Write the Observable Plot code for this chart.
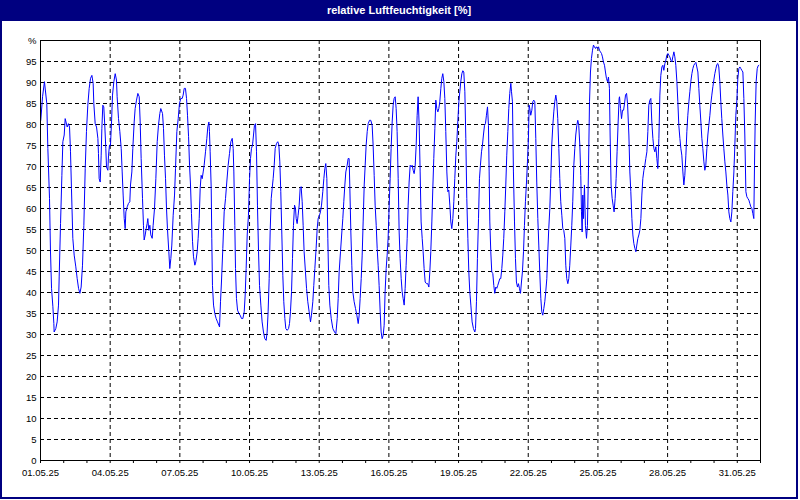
<!DOCTYPE html>
<html><head><meta charset="utf-8">
<script src="https://cdn.jsdelivr.net/npm/d3@7"></script>
<script src="https://cdn.jsdelivr.net/npm/@observablehq/plot@0.6"></script>
<style>
html,body{margin:0;padding:0;background:#fff;}
#wrap{position:relative;width:800px;height:500px;overflow:hidden;background:#fff;font-family:"Liberation Sans",Arial,sans-serif;}
#title{position:absolute;left:0;top:0;width:798px;height:21px;background:#000080;color:#fff;font-weight:bold;font-size:11px;line-height:20px;text-align:center;}
#frame{position:absolute;left:0;top:0;width:798px;height:499px;box-sizing:border-box;border:2px solid #000080;pointer-events:none;}
#chart{position:absolute;left:0;top:21px;}
</style></head><body>
<div id="wrap"><div id="title">relative Luftfeuchtigkeit [%]</div><div id="chart"></div><div id="frame"></div></div>
<script>
// hours since 01.05.25 00:00
const hours = [
0.3,2.1,4.1,6.5,7.6,9.3,10.3,11.4,12.8,13.8,14.1,15.8,17.2,18.6,19.3,20.7,22.1,23.1,24.5,25.5,27.6,28.9,30.0,31.0,32.0,33.4,34.8,36.5,37.9,39.3,40.7,42.0,43.4,44.8,46.2,47.5,48.9,50.3,51.7,53.1,54.4,55.1,56.5,57.9,59.3,59.9,60.6,61.7,62.7,63.4,64.4,65.4,66.5,67.5,68.2,69.6,70.3,71.3,72.3,73.4,74.4,75.8,77.2,78.5,79.2,80.6,82.0,83.4,84.4,85.4,86.5,87.5,88.2,89.6,90.9,92.3,93.0,94.4,95.4,96.8,97.8,99.2,100.6,102.0,103.0,104.0,105.4,106.4,107.1,108.2,109.2,110.2,110.9,111.9,113.0,114.0,115.4,116.4,117.8,119.2,120.6,121.9,123.3,124.3,126.1,127.1,128.1,129.2,130.2,131.2,132.6,133.6,134.7,135.7,137.1,138.5,139.5,140.9,142.3,143.6,145.0,146.4,147.4,148.5,
149.8,150.9,151.9,153.0,154.0,155.0,156.0,157.1,158.1,159.5,160.5,161.9,162.9,164.0,165.0,166.0,167.1,168.1,169.1,170.5,171.9,172.9,174.0,174.6,175.3,176.4,177.0,177.7,178.8,180.1,181.5,182.9,184.3,185.0,186.0,187.0,188.4,189.8,191.2,192.5,193.9,195.3,196.7,198.1,199.1,199.8,200.8,201.5,202.5,203.6,205.0,206.3,207.7,209.1,210.5,211.5,212.5,213.6,214.9,216.0,217.0,218.0,219.1,220.1,221.1,222.2,223.2,224.2,225.3,226.3,227.7,229.0,230.4,231.8,233.2,234.2,235.2,236.3,237.3,238.4,239.4,240.4,241.5,242.5,243.9,245.2,246.3,247.3,248.3,249.4,250.4,251.4,252.5,253.5,254.9,256.3,257.3,258.3,259.4,260.4,261.4,262.5,263.5,264.2,265.2,266.2,267.3,268.3,269.3,270.4,271.4,272.4,273.8,274.9,276.2,277.6,279.0,280.0,281.4,282.4,283.5,284.8,285.9,286.9,288.3,289.3,290.4,291.7,292.8,293.8,294.8,295.9,296.9,297.9,
299.0,300.4,302.1,303.8,305.2,306.6,307.6,308.6,310.0,311.4,312.4,313.4,314.5,315.5,316.9,317.9,318.9,319.6,320.7,321.7,322.7,324.1,325.5,326.9,328.3,329.3,330.3,331.4,332.4,333.4,334.5,335.5,336.5,337.6,338.6,340.0,341.3,342.7,343.7,344.8,345.8,346.9,347.9,348.9,349.9,351.0,352.0,353.0,354.1,355.1,356.1,357.2,358.2,359.2,360.3,361.3,362.3,363.4,364.4,365.4,366.5,367.5,368.5,369.6,370.6,371.6,372.7,373.7,374.7,375.8,376.8,377.8,378.9,379.9,380.9,382.0,383.0,384.0,385.1,386.1,387.1,388.2,389.2,390.2,391.3,392.3,393.3,394.4,395.4,396.4,397.5,398.9,400.2,401.3,402.3,403.3,404.4,405.4,406.4,407.5,408.5,409.5,410.6,411.6,412.6,413.7,414.7,415.7,416.8,417.8,418.8,419.9,420.9,421.9,423.0,424.0,425.0,426.1,427.1,428.1,429.2,430.2,431.2,432.3,433.3,434.3,435.4,436.4,437.4,438.5,439.5,440.5,441.6,442.6,443.6,444.7,446.0,447.4,448.8,
449.5,450.5,451.5,452.6,453.6,454.6,455.7,456.7,457.7,458.8,459.8,460.8,461.9,462.9,463.6,464.3,465.3,466.3,467.4,468.4,469.4,470.5,471.5,472.5,473.6,474.6,475.6,476.7,477.7,478.7,479.8,480.8,481.8,482.9,483.9,484.9,486.0,486.7,487.7,488.7,489.8,490.8,491.8,492.9,493.9,494.9,496.0,497.0,498.0,499.1,500.1,501.1,502.2,503.2,504.2,504.9,505.6,506.6,507.7,508.7,509.7,510.8,511.8,512.8,513.9,514.9,515.9,517.0,518.0,519.0,520.1,521.1,522.1,523.2,524.2,525.2,526.3,527.3,528.3,529.4,530.4,531.4,532.5,533.5,534.5,535.6,536.6,537.6,538.7,539.7,540.7,541.8,542.8,543.8,544.9,545.9,546.9,548.0,549.0,550.0,551.1,552.1,553.1,554.2,555.2,556.2,557.3,558.3,559.0,559.7,560.4,561.1,562.1,563.1,564.2,565.2,566.2,567.3,568.3,569.3,570.4,571.4,572.4,573.5,574.5,575.5,576.6,577.6,578.6,579.7,580.7,581.7,582.8,583.8,584.8,585.9,586.9,587.9,588.6,589.6,590.7,591.7,592.7,593.8,594.8,595.8,596.9,597.9,
598.3,599.4,600.4,601.4,602.5,603.5,604.5,605.6,606.6,608.0,609.0,610.0,611.1,612.1,613.1,614.2,615.2,616.2,617.3,618.3,619.3,620.4,621.4,622.4,623.5,624.5,625.5,626.6,627.6,628.6,629.7,630.7,631.7,632.8,633.8,634.8,635.9,636.9,637.9,639.0,640.0,641.0,642.1,643.1,644.1,645.2,646.2,647.2,648.3,649.3,650.3,651.4,652.4,653.4,654.5,655.5,656.5,657.6,658.6,659.6,660.7,661.7,662.7,663.8,664.8,665.8,666.9,667.9,668.9,670.0,671.0,672.0,673.1,674.1,675.1,676.2,677.2,678.2,679.3,680.3,681.3,682.4,683.4,684.4,685.5,686.5,687.5,688.6,689.6,690.6,691.7,692.7,693.7,694.8,695.8,696.8,697.9,698.9,699.9,700.9,702.0,703.0,704.0,705.1,706.1,707.2,708.2,709.2,710.3,711.3,712.3,713.4,714.4,715.4,716.5,717.5,718.5,719.6,720.6,721.6,722.7,723.7,724.7,725.8,726.8,727.8,728.9,729.9,730.9,732.0,733.0,734.0,735.1,736.1,737.1,737.8,738.5,739.5,740.6,741.6,742.3
];
// relative humidity in %
const humidity = [
81.0,86.6,90.2,85.0,74.3,62.4,50.0,41.0,36.6,32.6,30.6,31.4,33.0,37.0,43.7,56.4,67.9,75.9,77.5,81.4,79.4,80.2,79.4,73.5,64.8,52.9,48.9,46.1,43.3,41.0,39.8,41.3,46.5,56.0,69.5,78.3,84.6,88.6,91.0,91.7,89.8,85.0,80.2,79.4,76.7,73.1,67.1,66.3,72.7,79.0,84.6,84.2,79.4,74.3,69.9,69.1,72.7,75.1,75.0,80.6,87.0,90.2,92.1,90.6,86.6,81.4,78.3,74.3,68.7,63.2,57.6,55.2,59.2,60.4,61.2,61.6,65.6,68.7,74.3,80.6,83.8,85.8,87.4,86.6,80.6,71.9,62.4,56.0,52.5,53.7,55.2,56.4,57.6,54.8,56.0,53.7,52.9,56.0,60.0,67.1,75.9,79.8,82.6,83.8,82.6,79.0,72.7,67.1,60.0,55.2,49.7,45.7,48.1,51.3,58.4,63.2,69.5,78.3,81.4,85.0,86.2,86.2,87.0,88.6,
88.6,86.2,82.2,77.1,70.3,65.6,58.8,52.1,48.5,46.5,47.3,49.7,52.9,57.6,64.8,67.9,67.1,68.7,70.3,73.5,76.7,79.4,80.6,78.3,73.5,64.8,52.9,41.7,37.0,35.0,33.8,33.0,32.2,31.8,37.8,42.5,50.5,59.2,62.4,66.3,70.3,73.1,75.9,76.7,74.3,68.7,56.0,45.7,38.6,35.8,35.0,34.6,33.8,33.8,35.4,39.4,45.7,53.7,58.4,67.1,71.9,74.3,75.1,77.5,79.8,80.2,73.5,60.8,49.7,41.7,37.0,33.0,30.6,29.0,28.6,30.6,35.4,43.3,54.4,62.4,64.8,67.1,70.3,74.3,75.5,75.9,75.1,71.1,64.0,53.7,44.1,37.8,33.8,31.4,31.0,31.4,32.6,35.4,40.2,48.1,56.0,60.8,60.0,57.6,56.4,58.4,60.8,64.8,65.2,61.6,56.0,49.7,44.9,41.0,37.8,35.4,33.0,34.6,37.8,41.7,45.7,50.5,55.2,57.6,58.4,59.2,60.8,64.0,67.1,69.5,70.7,67.1,52.9,41.7,
37.0,33.8,31.4,30.6,30.2,33.8,38.6,44.9,49.7,54.4,57.6,61.6,65.6,68.7,70.3,71.9,71.9,65.6,54.4,46.5,40.2,37.8,36.2,34.6,32.6,34.6,38.6,43.3,48.9,56.8,65.6,70.3,75.1,78.3,80.2,81.0,81.0,79.8,75.1,67.9,60.8,56.0,50.5,46.5,41.7,35.4,30.6,29.0,29.8,32.2,40.2,45.7,48.9,52.9,60.8,67.1,74.3,80.6,84.6,86.2,86.6,83.8,78.3,67.1,54.4,48.1,43.3,40.2,38.6,37.0,41.0,46.5,52.9,60.8,66.3,70.3,69.9,70.3,69.1,68.3,69.9,75.1,82.2,86.6,79.8,68.7,56.8,52.9,49.7,45.7,42.5,42.1,42.1,41.3,44.9,49.7,56.8,64.8,71.9,79.0,85.8,83.8,83.0,83.8,85.4,88.6,91.0,92.1,90.2,86.2,78.3,68.7,64.0,64.4,60.8,56.8,55.2,57.6,61.6,67.1,72.7,75.9,80.6,85.4,87.8,90.2,92.1,92.8,92.5,87.8,76.7,62.4,52.9,44.9,40.2,37.0,33.0,31.4,30.6,
31.4,37.8,48.1,57.6,67.1,70.3,73.5,75.1,77.5,79.8,80.2,82.2,84.2,79.8,68.7,56.8,49.7,44.9,44.5,41.7,39.8,41.3,41.0,41.7,42.5,43.3,43.3,45.7,48.9,52.9,59.2,65.6,72.7,78.3,83.8,87.4,89.8,87.8,85.4,68.7,56.8,48.1,42.5,41.3,42.1,41.0,39.8,42.5,44.9,49.7,56.0,61.6,66.3,71.1,76.7,84.6,83.8,82.2,83.4,85.4,85.8,85.4,76.7,66.3,57.6,51.3,44.9,38.6,35.4,34.6,36.2,37.8,40.2,43.3,49.7,55.2,60.0,67.1,75.1,79.8,83.0,85.4,87.0,85.4,81.4,74.3,67.1,61.6,58.4,55.2,54.8,52.9,46.5,43.3,42.1,43.3,46.5,51.3,56.0,61.6,70.3,74.3,77.5,79.8,81.0,79.8,75.1,67.9,59.2,54.4,63.2,57.6,65.6,56.0,52.9,56.0,68.7,85.4,92.5,95.7,97.7,98.9,98.5,98.1,98.5,98.1,98.5,97.7,97.3,96.9,96.1,94.9,94.1,92.5,91.0,90.2,91.3,88.6,77.5,65.6,62.4,60.8,59.2,62.4,67.1,73.5,80.6,86.2,
86.6,83.8,81.4,83.4,83.4,85.0,87.0,87.4,85.0,77.5,68.7,64.0,57.6,53.7,51.7,50.5,49.7,51.3,52.9,53.7,54.8,57.6,63.2,67.1,69.1,70.3,71.9,73.5,78.3,84.6,85.8,86.2,80.6,76.7,74.3,73.5,74.7,71.9,69.5,76.7,87.0,91.7,93.7,94.1,92.9,94.5,95.3,96.5,96.9,96.5,96.1,95.3,94.9,96.1,97.3,96.1,94.1,90.2,85.4,79.8,76.7,74.3,72.7,68.7,65.6,67.9,72.7,78.3,82.2,85.4,87.8,90.2,92.1,93.3,94.1,94.5,94.8,93.7,92.5,88.6,84.6,80.6,76.7,74.3,71.1,69.1,70.3,74.3,77.5,79.8,82.2,85.0,87.0,89.0,90.6,92.1,93.3,94.3,94.5,93.7,90.2,85.4,81.4,77.5,74.3,71.1,68.7,65.6,63.2,59.2,57.6,56.8,59.2,64.0,68.7,75.1,82.2,85.8,91.0,93.3,93.7,93.3,92.9,92.5,86.2,77.5,64.0,62.8,62.4,62.0,61.2,60.4,60.0,58.8,57.6,70.3,80.6,90.2,93.3,94.0,94.1
];
const labelDays = [1,4,7,10,13,16,19,22,25,28,31];
const yTicks = [0,5,10,15,20,25,30,35,40,45,50,55,60,65,70,75,80,85,90,95,100];

const start = Date.UTC(2025,4,1);
const data = hours.map((h,i)=>({date:new Date(start+h*3600e3), rh:humidity[i]}));
const xTicks = labelDays.map(d=>new Date(Date.UTC(2025,4,d)));
const dayTicks = d3.utcDays(new Date(start), new Date(Date.UTC(2025,5,2)));
const fmt = d3.utcFormat("%d.%m.%y");

const chart = Plot.plot({
  width:800, height:479, marginTop:19, marginRight:40, marginBottom:40, marginLeft:40,
  style:{fontFamily:'"Liberation Sans", Arial, sans-serif', fontSize:"9.5px", color:"#000", background:"transparent", overflow:"visible"},
  x:{type:"utc", domain:[new Date(start), new Date(Date.UTC(2025,5,1))]},
  y:{domain:[0,100]},
  marks:[
    Plot.ruleY(yTicks.filter(d=>d>0&&d<100), {stroke:"#000", strokeDasharray:"4,3", strokeWidth:1}),
    Plot.ruleX(xTicks.slice(1), {stroke:"#000", strokeDasharray:"4,3", strokeWidth:1}),
    Plot.line(data, {x:"date", y:"rh", stroke:"#0000ff", strokeWidth:1}),
    Plot.frame({stroke:"#000"}),
    Plot.axisY({ticks:yTicks, tickSize:0, tickPadding:4, tickFormat:d=>d===100?"%":String(d), label:null}),
    Plot.axisX({ticks:dayTicks, tickSize:3, tickFormat:()=>"", label:null}),
    Plot.axisX({ticks:xTicks, tickSize:0, tickPadding:9, tickFormat:fmt, label:null})
  ]
});
document.getElementById("chart").appendChild(chart);
</script>
</body></html>
